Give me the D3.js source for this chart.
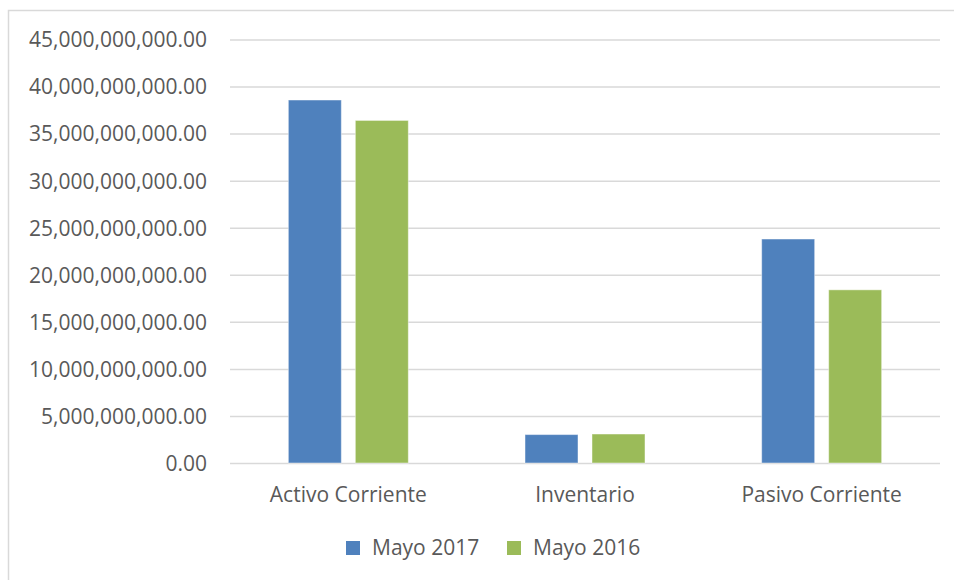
<!DOCTYPE html>
<html>
<head>
<meta charset="utf-8">
<script src="https://cdn.jsdelivr.net/npm/d3@7"></script>
<style>
  body { margin: 0; background: #fff; }
  svg text { font-family: "Open Sans", sans-serif; fill: #595959; }
</style>
</head>
<body>
<div id="chart"></div>
<script>
// Chart data
const categories = ['Activo Corriente', 'Inventario', 'Pasivo Corriente'];
const seriesNames = ['Mayo 2017', 'Mayo 2016'];
const mayo2017 = [38570000000, 3020000000, 23800000000];
const mayo2016 = [36400000000, 3080000000, 18400000000];
const yTicks = [0, 5e9, 10e9, 15e9, 20e9, 25e9, 30e9, 35e9, 40e9, 45e9];
const colors = ['#4F81BD', '#9BBB59'];

function renderChart() {
    const width = 954;
    const height = 580;
    const plot = { left: 230, right: 940, top: 39.5, bottom: 463 };

    const svg = d3.select('#chart').append('svg')
        .attr('width', width)
        .attr('height', height);

    // Chart border (top and left edges visible in frame)
    svg.append('path')
        .attr('d', `M8.5,${height + 5}V10.5H${width + 5}`)
        .attr('fill', 'none')
        .attr('stroke', '#d9d9d9')
        .attr('stroke-width', 1.5);

    const y = d3.scaleLinear()
        .domain([0, 45e9])
        .range([plot.bottom, plot.top]);

    const x0 = d3.scaleBand()
        .domain(categories)
        .range([plot.left, plot.right]);

    const x1 = d3.scaleBand()
        .domain(seriesNames)
        .range([0, x0.bandwidth()])
        .paddingInner(14 / 67)
        .paddingOuter(0.871);

    // Y axis with gridlines
    const yAxis = svg.append('g')
        .attr('transform', `translate(${plot.left},0)`)
        .call(d3.axisLeft(y)
            .tickValues(yTicks)
            .tickFormat(d3.format(',.2f'))
            .tickSize(-(plot.right - plot.left))
            .tickPadding(23));
    yAxis.select('.domain').remove();
    yAxis.selectAll('line')
        .attr('stroke', '#d9d9d9')
        .attr('stroke-width', 1.5);
    yAxis.selectAll('text')
        .attr('font-size', 21)
        .attr('dy', '0.35em')
        .style('font-family', '"Open Sans", sans-serif')
        .attr('fill', '#595959');

    // Bars
    const series = [mayo2017, mayo2016];
    const groups = svg.append('g').selectAll('g')
        .data(categories)
        .enter().append('g')
        .attr('transform', d => `translate(${x0(d)},0)`);

    groups.selectAll('rect')
        .data((d, i) => seriesNames.map((s, j) => ({ series: s, value: series[j][i], idx: j })))
        .enter().append('rect')
        .attr('x', d => x1(d.series))
        .attr('y', d => y(d.value))
        .attr('width', x1.bandwidth())
        .attr('height', d => y(0) - y(d.value))
        .attr('fill', d => colors[d.idx])
        .attr('stroke', '#ffffff')
        .attr('stroke-opacity', 0.45)
        .attr('stroke-width', 1);

    // Category labels
    svg.append('g').selectAll('text')
        .data(categories)
        .enter().append('text')
        .attr('x', d => x0(d) + x0.bandwidth() / 2)
        .attr('y', 502)
        .attr('text-anchor', 'middle')
        .attr('font-size', 21)
        .text(d => d);

    // Legend
    const legendX = [346, 507];
    const legend = svg.append('g').selectAll('g')
        .data(seriesNames)
        .enter().append('g')
        .attr('transform', (d, i) => `translate(${legendX[i]},541)`);
    legend.append('rect')
        .attr('width', 14)
        .attr('height', 14)
        .attr('fill', (d, i) => colors[i]);
    legend.append('text')
        .attr('x', 26)
        .attr('y', 14)
        .attr('font-size', 21)
        .text(d => d);
}

document.addEventListener('DOMContentLoaded', renderChart);
</script>
</body>
</html>
